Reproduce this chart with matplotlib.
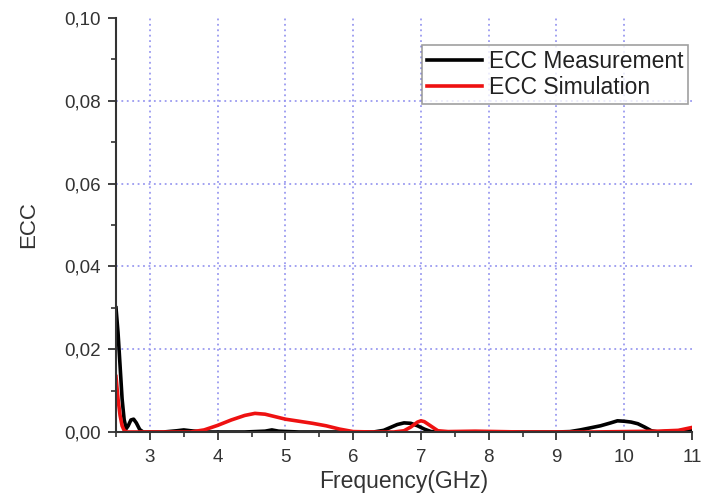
import matplotlib
matplotlib.use("Agg")
import matplotlib.pyplot as plt
from matplotlib.ticker import MultipleLocator, FuncFormatter

plt.rcParams['font.family'] = ['Liberation Sans', 'DejaVu Sans']

# Envelope correlation coefficient vs frequency
freq_meas = [2.50, 2.53, 2.56, 2.59, 2.62, 2.65, 2.68, 2.72, 2.76, 2.80, 2.85, 2.90,
             3.00, 3.20, 3.40, 3.50, 3.60, 3.80, 4.00, 4.40, 4.70, 4.80, 4.90, 5.20,
             5.60, 6.00, 6.30, 6.45, 6.55, 6.65, 6.75, 6.85, 6.95, 7.05, 7.15, 7.30,
             7.60, 8.00, 8.50, 9.00, 9.20, 9.35, 9.50, 9.65, 9.80, 9.90, 10.00, 10.10,
             10.20, 10.30, 10.40, 10.50, 10.70, 10.90, 11.00]
ecc_meas = [0.0300, 0.0240, 0.0160, 0.0080, 0.0030, 0.0008, 0.0015, 0.0029, 0.0031, 0.0022, 0.0006, 0.0000,
            0.0000, 0.0000, 0.0003, 0.0005, 0.0003, 0.0000, 0.0000, 0.0000, 0.0002, 0.0005, 0.0002, 0.0000,
            0.0000, 0.0000, 0.0000, 0.0004, 0.0011, 0.0018, 0.0022, 0.0021, 0.0015, 0.0007, 0.0001, 0.0000,
            0.0000, 0.0000, 0.0000, 0.0000, 0.0001, 0.0005, 0.0010, 0.0015, 0.0022, 0.0027, 0.0026, 0.0024,
            0.0020, 0.0012, 0.0003, 0.0000, 0.0002, 0.0004, 0.0005]

freq_sim = [2.50, 2.53, 2.56, 2.59, 2.62, 2.66, 2.70, 2.80, 3.00, 3.30, 3.60, 3.80,
            4.00, 4.20, 4.40, 4.55, 4.70, 4.85, 5.00, 5.20, 5.40, 5.60, 5.80, 6.00,
            6.30, 6.60, 6.75, 6.85, 6.95, 7.00, 7.05, 7.15, 7.25, 7.40, 7.80, 8.50,
            9.00, 9.50, 10.00, 10.50, 10.80, 11.00]
ecc_sim = [0.0134, 0.0080, 0.0040, 0.0015, 0.0004, 0.0000, 0.0000, 0.0000, 0.0000, 0.0000, 0.0000, 0.0005,
           0.0016, 0.0029, 0.0040, 0.0045, 0.0043, 0.0037, 0.0031, 0.0026, 0.0021, 0.0015, 0.0007, 0.0001,
           0.0000, 0.0000, 0.0003, 0.0012, 0.0024, 0.0027, 0.0025, 0.0014, 0.0003, 0.0001, 0.0002, 0.0000,
           0.0000, 0.0000, 0.0001, 0.0002, 0.0004, 0.0011]

x_ticks = [3, 4, 5, 6, 7, 8, 9, 10, 11]
y_ticks = [0.00, 0.02, 0.04, 0.06, 0.08, 0.10]

fig = plt.figure(figsize=(7.14, 4.99), dpi=100)
ax = fig.add_axes([116 / 714, 1 - 432 / 499, (692 - 116) / 714, (432 - 18) / 499])

ax.plot(freq_meas, ecc_meas, color='black', lw=2.6, label='ECC Measurement', solid_joinstyle='round')
ax.plot(freq_sim, ecc_sim, color='#ee1111', lw=2.6, label='ECC Simulation', solid_joinstyle='round')

ax.set_xlim(2.5, 11)
ax.set_ylim(0, 0.10)
ax.set_xticks(x_ticks)
ax.set_yticks(y_ticks)
ax.xaxis.set_minor_locator(MultipleLocator(0.5))
ax.yaxis.set_minor_locator(MultipleLocator(0.01))
ax.yaxis.set_major_formatter(FuncFormatter(lambda v, p: f"{v:.2f}".replace('.', ',')))

for s in ('top', 'right'):
    ax.spines[s].set_visible(False)
for s in ('left', 'bottom'):
    ax.spines[s].set_linewidth(1.5)
    ax.spines[s].set_color('#333333')

ax.tick_params(which='major', direction='out', length=6, width=1.3, labelsize=13.5,
               colors='#333333', labelcolor='#333333')
ax.tick_params(axis='y', which='major', pad=5)
ax.tick_params(axis='x', which='major', pad=6)
ax.tick_params(which='minor', direction='out', length=3.5, width=1.2, colors='#333333')

ax.grid(True, which='major', color='#9a9af0', linestyle=(0, (1, 2)), linewidth=1.3)
ax.get_xgridlines()[-1].set_visible(False)
ax.get_ygridlines()[-1].set_visible(False)
ax.get_ygridlines()[0].set_visible(False)
ax.set_axisbelow(True)

ax.set_xlabel('Frequency(GHz)', fontsize=16.5, color='#333333', labelpad=3)
ax.set_ylabel('ECC', fontsize=16, color='#333333', labelpad=18)

leg = ax.legend(loc='upper left', bbox_to_anchor=(422 / 714, 1 - 45 / 499),
                bbox_transform=fig.transFigure, fontsize=16.5, frameon=True, fancybox=False,
                handlelength=2.4, handletextpad=0.3, borderpad=0.22, labelspacing=0.12,
                borderaxespad=0)
leg.get_frame().set_edgecolor('#888888')
leg.get_frame().set_linewidth(1.2)
for t in leg.get_texts():
    t.set_color('#222222')

fig.savefig('out.png', dpi=100)
